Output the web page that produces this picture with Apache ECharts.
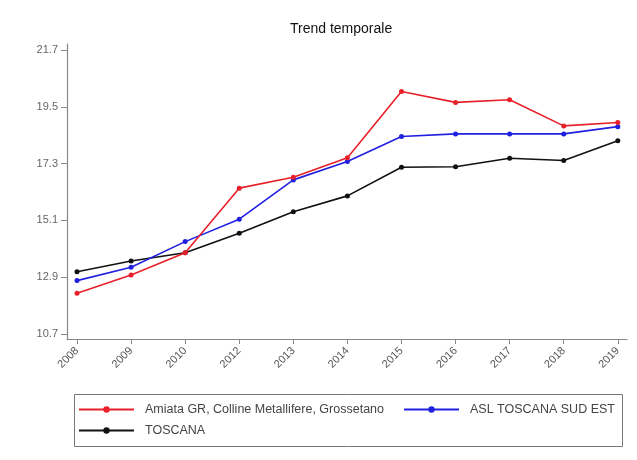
<!DOCTYPE html>
<html><head><meta charset="utf-8">
<script src="https://cdn.jsdelivr.net/npm/echarts@6/dist/echarts.min.js"></script>
<style>html,body{margin:0;padding:0;background:#fff}#c{width:637px;height:460px}</style>
</head><body><div id="c"></div>
<script>
var categories = ['2008','2009','2010','2012','2013','2014','2015','2016','2017','2018','2019'];
var amiata = [12.28,12.99,13.85,16.35,16.77,17.53,20.09,19.67,19.77,18.76,18.89];
var aslSudEst = [12.77,13.29,14.28,15.15,16.67,17.38,18.35,18.45,18.45,18.45,18.73];
var toscana = [13.11,13.53,13.85,14.60,15.44,16.05,17.16,17.18,17.51,17.42,18.18];
var yTicks = [10.7,12.9,15.1,17.3,19.5,21.7];
var seriesNames = ['Amiata GR, Colline Metallifere, Grossetano','ASL TOSCANA SUD EST','TOSCANA'];
var seriesColors = ['#e8202a','#2020e0','#111111'];

function pairs(arr){ return arr.map(function(v,i){ return [i, v]; }); }
var xIdx = categories.map(function(_,i){ return i; });

var chart = echarts.init(document.getElementById('c'), null, {renderer:'canvas'});
var font = 'Liberation Sans, Arial, sans-serif';
var allData = [amiata, aslSudEst, toscana];
var series = allData.map(function(d,k){
  return {
    name: seriesNames[k], type:'line', data: pairs(d),
    symbol:'circle', symbolSize:5,
    lineStyle:{color:seriesColors[k], width:1.6},
    itemStyle:{color:seriesColors[k]},
    z: 3-k
  };
});
function legendFor(k, left, top){
  return {
    data:[seriesNames[k]], left:left, top:top, orient:'horizontal',
    itemWidth:55, itemHeight:8, itemGap:5, padding:0,
    textStyle:{fontFamily:font, fontSize:12.5, color:'#444', padding:[0,0,0,6]},
    selectedMode:false
  };
}
chart.setOption({
  backgroundColor:'#fff',
  animation:false,
  title:{text:'Trend temporale', left:290, top:22, padding:0,
    textStyle:{fontFamily:font, fontSize:14, fontWeight:'normal', color:'#111'}},
  grid:{left:67, right:10, top:44, bottom:121, containLabel:false},
  xAxis:{
    type:'value', min:-0.185, max:10.17,
    splitLine:{show:false},
    axisLine:{show:true, onZero:false, lineStyle:{color:'#888', width:1.2}},
    axisTick:{show:true, customValues:xIdx, length:5, lineStyle:{color:'#888'}},
    axisLabel:{customValues:xIdx, rotate:45, fontFamily:font, fontSize:11, color:'#555', margin:10,
      formatter:function(v){ return categories[Math.round(v)]; }}
  },
  yAxis:{
    type:'value', min:10.51, max:21.93,
    splitLine:{show:false},
    axisLine:{show:true, onZero:false, lineStyle:{color:'#888', width:1.2}},
    axisTick:{show:true, customValues:yTicks, length:6, lineStyle:{color:'#888'}},
    axisLabel:{customValues:yTicks, fontFamily:font, fontSize:11, color:'#666', margin:9,
      formatter:function(v){ return v.toFixed(1); }}
  },
  legend:[legendFor(0,78,403), legendFor(1,403,403), legendFor(2,78,424)],
  graphic:[{type:'rect', left:72, top:392, shape:{width:548, height:52},
    style:{fill:'none', stroke:'#777', lineWidth:1}}],
  series: series
});
</script></body></html>
